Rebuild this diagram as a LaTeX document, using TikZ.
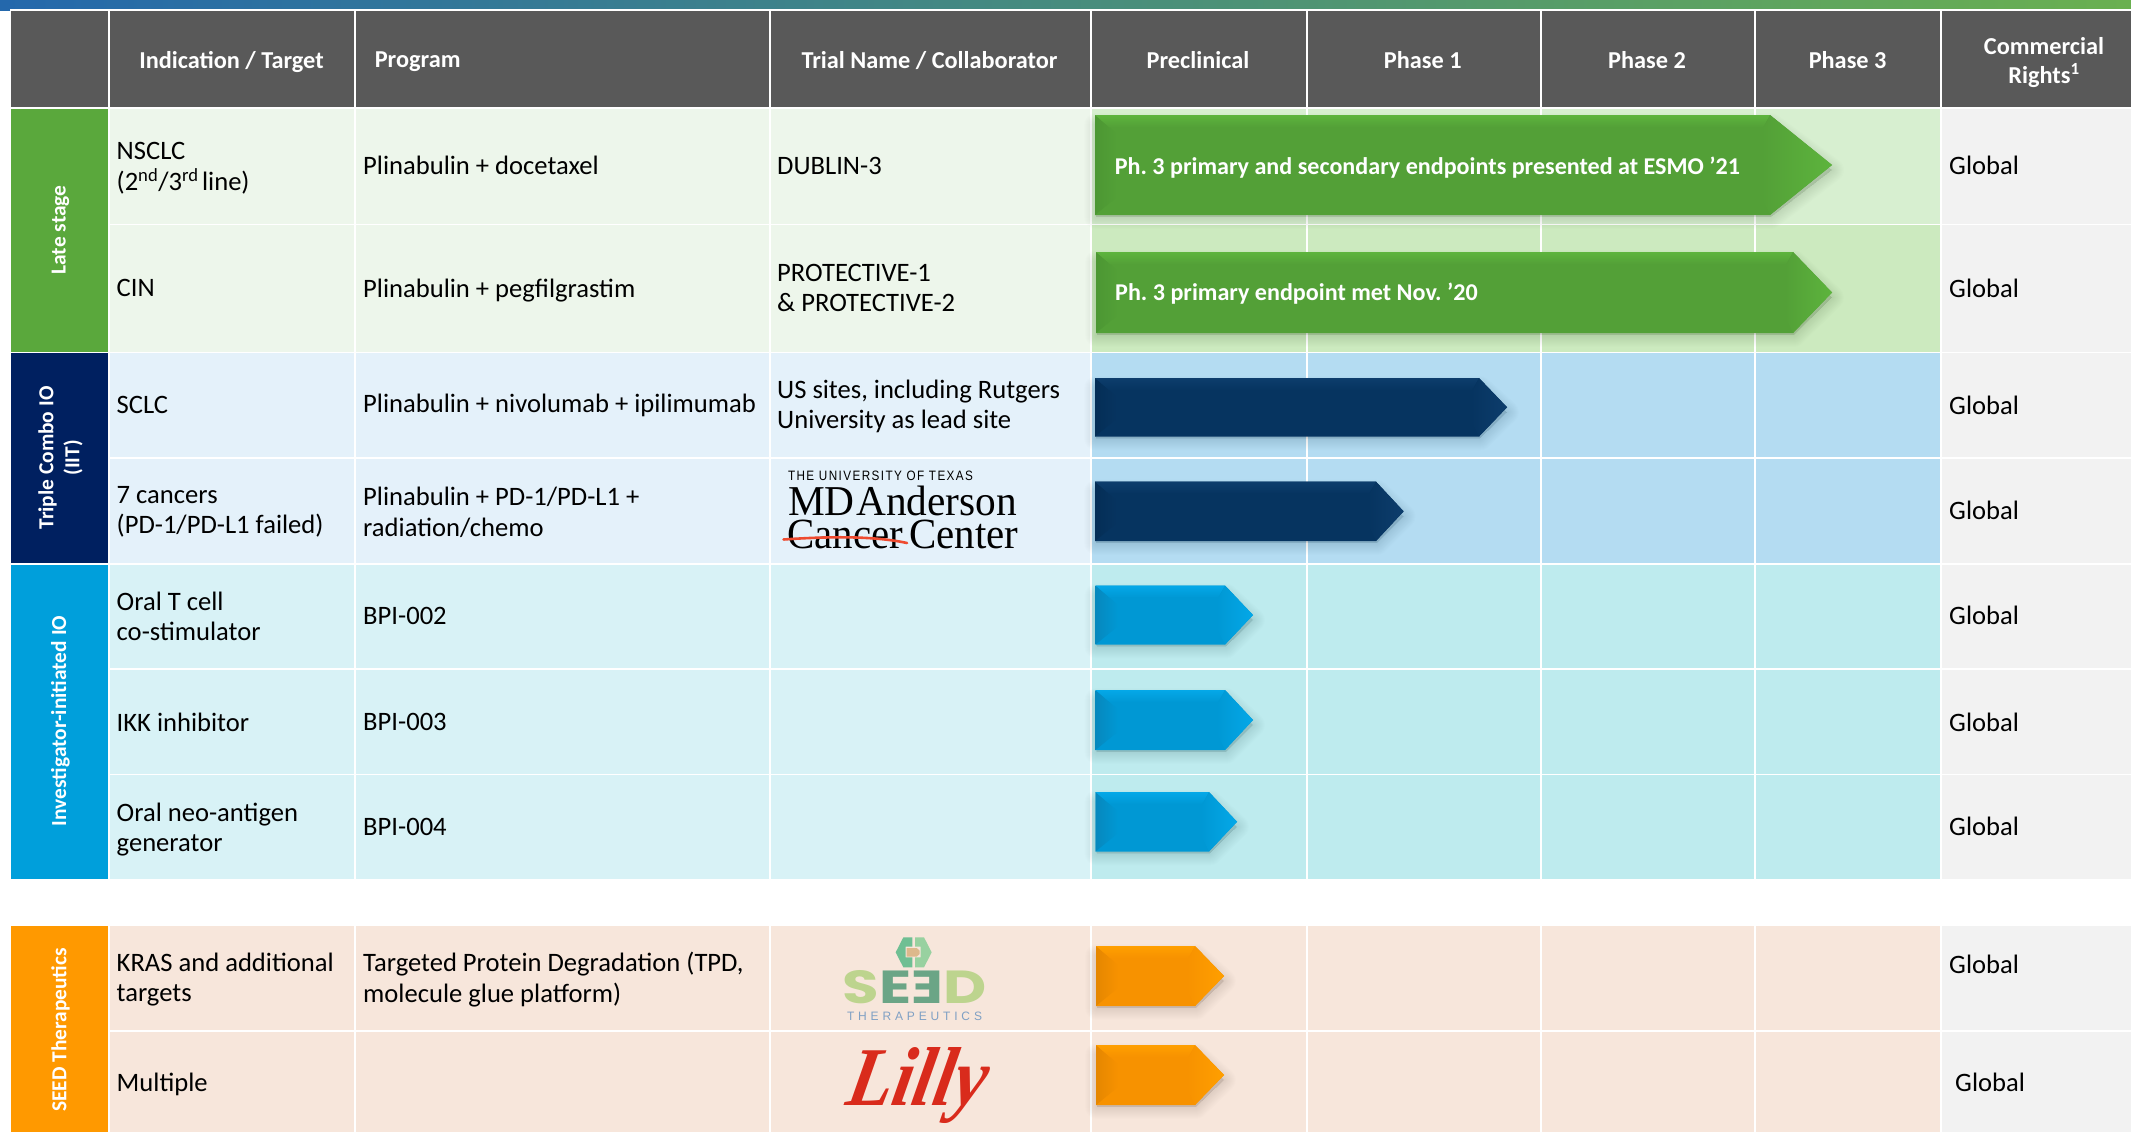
\documentclass[tikz,border=0pt]{standalone}
\usepackage{fontspec}
\usepackage{graphicx}
\setmainfont{Carlito}
\newfontfamily\lserif{Liberation Serif}
\newfontfamily\lilyf[FakeSlant=0.22]{Liberation Serif}
\newfontfamily\lsansA[LetterSpace=12]{Liberation Sans}
\newfontfamily\lsansB[LetterSpace=32]{Liberation Sans}
\newfontfamily\popp{Poppins}
\frenchspacing
\definecolor{hdr}{HTML}{595959}
\definecolor{gA}{HTML}{5AA83C}\definecolor{gL}{HTML}{EDF6EB}\definecolor{gP}{HTML}{D7EFD0}\definecolor{gQ}{HTML}{CCEABF}
\definecolor{nA}{HTML}{002060}\definecolor{nL}{HTML}{E4F1FA}\definecolor{nP}{HTML}{B4DCF2}
\definecolor{bA}{HTML}{009FDB}\definecolor{bL}{HTML}{D8F2F6}\definecolor{bP}{HTML}{BEEBEE}
\definecolor{oA}{HTML}{FF9900}\definecolor{oL}{HTML}{F7E6DB}
\definecolor{rc}{HTML}{F2F2F2}
\definecolor{arG}{HTML}{53A037}\definecolor{arGl}{HTML}{5DB43D}\definecolor{arGd}{HTML}{4C9733}
\definecolor{arN}{HTML}{063460}\definecolor{arNl}{HTML}{0D3D6C}\definecolor{arNd}{HTML}{052E56}
\definecolor{arB}{HTML}{0098D4}\definecolor{arBl}{HTML}{04A8E8}\definecolor{arBd}{HTML}{0788BE}
\definecolor{arO}{HTML}{F79200}\definecolor{arOl}{HTML}{FF9F00}\definecolor{arOd}{HTML}{E58700}
\definecolor{lilly}{HTML}{D92B1C}
\definecolor{barL}{RGB}{36,104,172}\definecolor{barR}{RGB}{106,176,80}
\definecolor{hexL}{RGB}{111,191,147}\definecolor{hexR}{RGB}{152,209,160}\definecolor{hexT}{RGB}{221,184,140}
\definecolor{seTx}{RGB}{127,160,196}\definecolor{mdRed}{HTML}{EE4B30}
\tikzset{
  cell/.style={anchor=west,inner sep=0pt,align=left,text=black,font=\fontsize{26.6}{30.5}\selectfont},
  head/.style={inner sep=0pt,align=center,text=white,font=\fontsize{24.3}{29}\selectfont\bfseries},
  side/.style={inner sep=0pt,align=center,text=white,rotate=90,font=\fontsize{21.4}{26}\selectfont\bfseries},
  bartext/.style={anchor=west,inner sep=0pt,text=white,font=\fontsize{24.1}{28}\selectfont\bfseries},
  logo/.style={inner sep=0pt,anchor=south west}
}
\newcommand\rowband[4]{%
  \fill[#3] (108,#1) rectangle (1090.5,#2);
  \fill[#4] (1090.5,#1) rectangle (1941,#2);
  \fill[rc] (1941,#1) rectangle (2131,#2);
}
% x0 xbase xtip y0 y1 base light dark
\newcommand\chev[8]{%
  \pgfmathsetmacro\ym{(#4+#5)/2}
  \foreach \i in {1,...,12}{
    \fill[black,fill opacity=.007,draw=black,draw opacity=.009,line join=round,line width=\i*2pt]
      (#1+1,#4+10) -- (#2+1,#4+10) -- (#3,\ym+5) -- (#2+1,#5+2) -- (#1+1,#5+2) -- cycle;
  }
  \fill[#6] (#1,#4) -- (#2,#4) -- (#3,\ym) -- (#2,#5) -- (#1,#5) -- cycle;
  \shade[left color=#8,right color=#6] (#1,#4) -- (#1+22,#4+19) -- (#1+22,#5-18) -- (#1,#5) -- cycle;
  \shade[top color=#7,bottom color=#6] (#1,#4) -- (#2,#4) -- (#2-7,#4+12) -- (#1+14,#4+12) -- cycle;
  \shade[left color=#6,right color=#7] (#2,#4) -- (#3,\ym) -- (#2,#5) -- (#2-8,#5-16) -- (#2-8,#4+16) -- cycle;
}
\begin{document}
\begin{tikzpicture}[x=1pt,y=-1pt]
\useasboundingbox (0,0) rectangle (2131,1132);
\fill[white] (0,0) rectangle (2131,1132);
% top bar
\shade[left color=barL,right color=barR] (0,0) rectangle (2131,9);
\fill[barL] (0,9) rectangle (10,11);
% header
\fill[hdr] (11,11) rectangle (2131,107);
% rows
\rowband{109}{223.5}{gL}{gP}
\rowband{225}{351.5}{gL}{gQ}
\rowband{353}{457}{nL}{nP}
\rowband{459}{563}{nL}{nP}
\rowband{564.5}{668}{bL}{bP}
\rowband{669.5}{774}{bL}{bP}
\rowband{775}{879}{bL}{bP}
\rowband{926}{1030}{oL}{oL}
\rowband{1031.5}{1132}{oL}{oL}
% white column rules
\foreach \cx in {108.5,355,770,1090.5,1306.5,1541,1755,1941}{
  \fill[white] (\cx-1,11) rectangle (\cx+1,107);
  \fill[white] (\cx-1,109) rectangle (\cx+1,879);
  \fill[white] (\cx-1,926) rectangle (\cx+1,1132);
}
% side bands
\fill[gA] (11,109) rectangle (107.5,351.5);
\fill[nA] (11,353) rectangle (107.5,563);
\fill[bA] (11,564.5) rectangle (107.5,879);
\fill[oA] (11,926) rectangle (107.5,1132);
% headers
\node[head] (h1) at (231.5,61.6) {Indication / Target};
\node[head,anchor=west] (h2) at (374.6,62.1) {Program};
\node[head] (h3) at (929.5,60.1) {Trial Name / Collaborator};
\node[head] (h4) at (1198,59.6) {Preclinical};
\node[head] (h5) at (1422.7,59.6) {Phase 1};
\node[head] (h6) at (1647,59.6) {Phase 2};
\node[head] (h7) at (1847.6,59.6) {Phase 3};
\node[head] (h8) at (2044,62.5) {Commercial\\Rights\textsuperscript{1}};
% side labels
\node[side] (s1) at (60.5,230) {Late stage};
\node[side] (s2) at (60.5,458) {Triple Combo IO\\(IIT)};
\node[side] (s3) at (60.5,721) {Investigator-initiated IO};
\node[side] (s4) at (60.5,1030) {SEED Therapeutics};
% col 1
\node[cell] (a1) at (116.5,168) {NSCLC\\(2\textsuperscript{nd}/3\textsuperscript{rd}\hspace{-2.5pt} line)};
\node[cell] (a2) at (116.5,288) {CIN};
\node[cell] (a3) at (116.5,405) {SCLC};
\node[cell] (a4) at (116.5,512) {7 cancers\\(PD-1/PD-L1 failed)};
\node[cell] (a5) at (116.5,616.5) {Oral T cell\\co-stimulator};
\node[cell] (a6) at (116.5,722) {IKK inhibitor};
\node[cell] (a7) at (116.5,829.5) {Oral neo-antigen\\generator};
\node[cell] (a8) at (116.5,979.5) {KRAS and additional\\targets};
\node[cell] (a9) at (116.5,1084.5) {Multiple};
% col 2
\node[cell] (b1) at (363,165.4) {Plinabulin + docetaxel};
\node[cell] (b2) at (363,290.5) {Plinabulin + pegfilgrastim};
\node[cell] (b3) at (363,405) {Plinabulin + nivolumab + ipilimumab};
\node[cell] (b4) at (363,512.5) {Plinabulin + PD-1/PD-L1 +\\radiation/chemo};
\node[cell] (b5) at (363,615.5) {BPI-002};
\node[cell] (b6) at (363,722) {BPI-003};
\node[cell] (b7) at (363,827) {BPI-004};
\node[cell] (b8) at (363,979.5) {Targeted Protein Degradation (TPD,\\molecule glue platform)};
% col 3
\node[cell] (c1) at (777,166.4) {DUBLIN-3};
\node[cell] (c2) at (777,288) {PROTECTIVE-1\\\&~PROTECTIVE-2};
\node[cell] (c3) at (777,406.5) {US sites, including Rutgers\\University as lead site};
% rights
\node[cell] (g1) at (1949,165.4) {Global};
\node[cell] (g2) at (1949,288) {Global};
\node[cell] (g3) at (1949,405) {Global};
\node[cell] (g4) at (1949,510) {Global};
\node[cell] (g5) at (1949,615.5) {Global};
\node[cell] (g6) at (1949,722) {Global};
\node[cell] (g7) at (1949,826) {Global};
\node[cell] (g8) at (1949,964) {Global};
\node[cell] (g9) at (1955,1082.5) {Global};
% bars
\chev{1095}{1770}{1832}{115}{215}{arG}{arGl}{arGd}
\chev{1096}{1793}{1832}{252}{333}{arG}{arGl}{arGd}
\chev{1095}{1479}{1507}{378}{436.5}{arN}{arNl}{arNd}
\chev{1095}{1376}{1403.6}{481.7}{541}{arN}{arNl}{arNd}
\chev{1095.5}{1225}{1253}{585.5}{644.6}{arB}{arBl}{arBd}
\chev{1095.5}{1225}{1253}{690}{750}{arB}{arBl}{arBd}
\chev{1095.5}{1209}{1237}{792}{851.5}{arB}{arBl}{arBd}
\chev{1096}{1195}{1224}{946}{1006}{arO}{arOl}{arOd}
\chev{1096}{1195}{1224}{1045}{1105}{arO}{arOl}{arOd}
\node[bartext] (t1) at (1114.6,167.4) {Ph. 3 primary and secondary endpoints presented at ESMO ’21};
\node[bartext] (t2) at (1115,294.1) {Ph. 3 primary endpoint met Nov. ’20};
% MD Anderson logo
\node[inner sep=0pt,anchor=center] (md0) at (880.5,475.7) {\resizebox{185pt}{9.5pt}{\lsansA THE UNIVERSITY OF TEXAS}};
\node[logo] (md1) at (788,516) {\resizebox{229pt}{29.5pt}{\lserif MD\hspace{.04em}Anderson}};
\node[logo] (md2) at (787,549.5) {\resizebox{231pt}{28.5pt}{\lserif Cancer\hspace{.15em}Center}};
\draw[mdRed,line width=2.6pt,line cap=round] (783.5,539.5) .. controls (820,537) and (870,535) .. (907,543);
% SEED logo
\begin{scope}[shift={(800,920)},x=0.33333pt,y=-0.33333pt]
\fill[hexL] (310,52)--(337,52)--(337,80)--(317,80)--(317,112)--(337,112)--(337,142)--(310,142)--(287,97)--cycle;
\fill[hexR] (345,52)--(372,52)--(395,97)--(372,142)--(345,142)--(345,112)--(362,112)--(362,80)--(345,80)--cycle;
\fill[hexT] (320,84)--(350,84)--(359,92)--(359,102)--(350,110)--(320,110)--cycle;
\end{scope}
\node[logo] (se1) at (842.5,1004) {\resizebox{144pt}{33pt}{\popp\bfseries\color[HTML]{BDD48E}S\color[HTML]{6BA586}E\reflectbox{E}\color[HTML]{BDD48E}D}};
\node[inner sep=0pt,anchor=center,text=seTx] (se2) at (914.5,1016) {\resizebox{135pt}{8.5pt}{\lsansB THERAPEUTICS}};
% Lilly logo
\node[inner sep=0pt,anchor=center,text=lilly] (ly) at (914,1086) {\resizebox*{139pt}{76pt}{\lilyf\bfseries\itshape Lilly}};
\end{tikzpicture}
\end{document}
